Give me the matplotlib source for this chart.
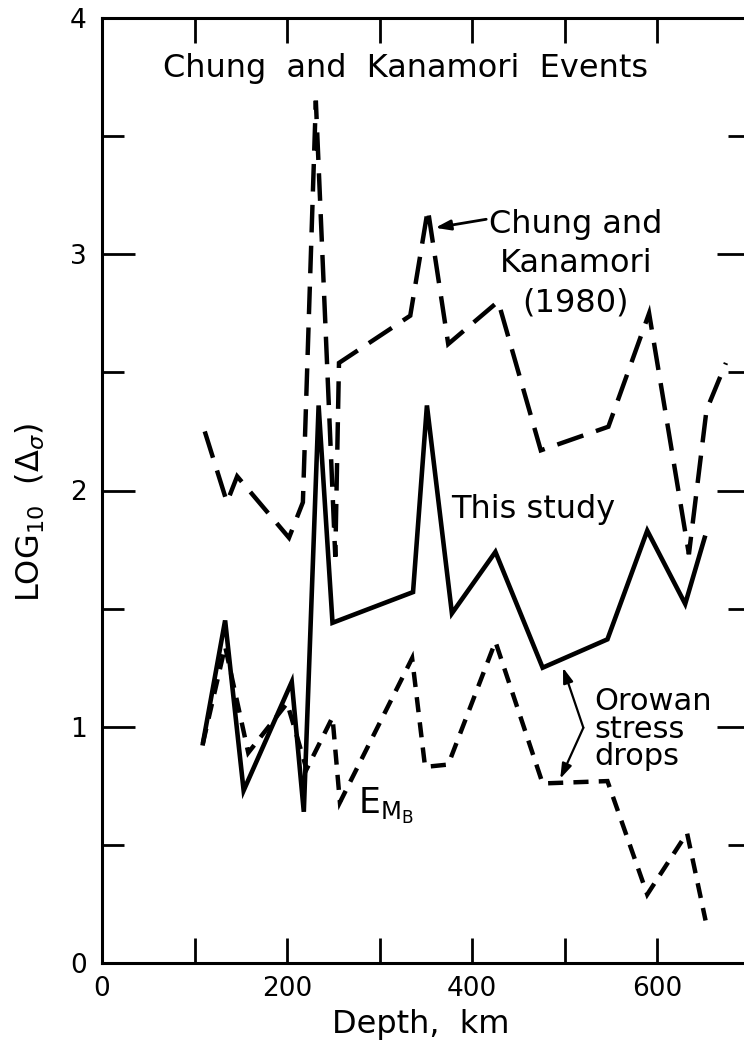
import matplotlib
matplotlib.use('Agg')
import matplotlib.pyplot as plt

# ---- data ----
depth_ck = [111, 135, 146, 202, 217, 231, 252, 256, 333, 352, 374, 428, 474, 547, 591, 634, 653, 674]
logds_ck = [2.25, 1.95, 2.06, 1.80, 1.95, 3.65, 1.72, 2.54, 2.74, 3.19, 2.62, 2.80, 2.17, 2.27, 2.75, 1.73, 2.34, 2.54]

depth_this = [109, 133, 153, 205, 218, 234, 249, 336, 351, 378, 425, 476, 546, 589, 630, 651]
logds_this = [0.93, 1.45, 0.73, 1.19, 0.64, 2.36, 1.44, 1.57, 2.36, 1.48, 1.74, 1.25, 1.37, 1.83, 1.52, 1.80]

depth_emb = [109, 133, 158, 200, 221, 249, 257, 335, 349, 374, 425, 476, 546, 589, 632, 652]
logds_emb = [0.93, 1.34, 0.89, 1.10, 0.82, 1.04, 0.68, 1.29, 0.83, 0.84, 1.36, 0.76, 0.77, 0.29, 0.55, 0.18]

x_major = [0, 200, 400, 600]
x_minor = [100, 300, 500, 700]
x_labels = ['0', '200', '400', '600']
y_major = [0, 1, 2, 3, 4]
y_minor = [0.5, 1.5, 2.5, 3.5]
y_labels = ['0', '1', '2', '3', '4']

W, H = 744, 1053
fig = plt.figure(figsize=(W / 100, H / 100), dpi=100)
fig.patch.set_facecolor('white')
ax = fig.add_axes([102 / W, 1 - 963 / H, 648 / W, 945 / H])

ax.plot(depth_ck, logds_ck, color='k', lw=3.2, dashes=(6.2, 3.0), dash_capstyle='butt',
        dash_joinstyle='miter')
ax.plot(depth_this, logds_this, color='k', lw=3.3, solid_joinstyle='miter')
ax.plot(depth_emb, logds_emb, color='k', lw=3.2, dashes=(3.4, 2.3), dash_capstyle='butt',
        dash_joinstyle='miter')

ax.set_xlim(0, 700)
ax.set_ylim(0, 4)
ax.set_xticks(x_major)
ax.set_xticklabels(x_labels)
ax.set_xticks(x_minor, minor=True)
ax.set_yticks(y_major)
ax.set_yticklabels(y_labels)
ax.set_yticks(y_minor, minor=True)

ax.tick_params(axis='x', which='both', direction='in', length=18, width=2.0,
               top=True, bottom=True, labelsize=19, pad=9)
ax.tick_params(axis='y', which='major', direction='in', length=24, width=2.0,
               left=True, right=True, labelsize=19, pad=11)
ax.tick_params(axis='y', which='minor', direction='in', length=16, width=2.0,
               left=True, right=True)
for s in ax.spines.values():
    s.set_linewidth(2.2)

ax.set_xlabel('Depth,  km', fontsize=23)
ax.xaxis.set_label_coords(0.492, -0.0656)
ax.xaxis.label.set_va('center')
ax.set_ylabel(r'LOG$_{10}$  ($\Delta_{\sigma}$)', fontsize=23)
ax.yaxis.set_label_coords(-0.111, 0.477)
ax.yaxis.label.set_va('center')

ax.text(0.468, 0.947, 'Chung  and  Kanamori  Events', transform=ax.transAxes,
        fontsize=23, ha='center', va='center')

ax.text(512, 2.96, 'Chung and\nKanamori\n(1980)', fontsize=23, ha='center', va='center',
        linespacing=1.35)
ax.annotate('', xy=(357, 3.11), xytext=(418, 3.15),
            arrowprops=dict(arrowstyle='-|>,head_length=0.9,head_width=0.3', color='k', lw=2))

ax.text(466, 1.92, 'This study', fontsize=23, ha='center', va='center')

ax.text(532, 0.99, 'Orowan\nstress\ndrops', fontsize=22, ha='left', va='center',
        linespacing=0.95)
ax.annotate('', xy=(498, 1.25), xytext=(520, 0.996),
            arrowprops=dict(arrowstyle='-|>,head_length=0.9,head_width=0.3', color='k', lw=1.6,
                            shrinkA=0, shrinkB=0))
ax.annotate('', xy=(495, 0.78), xytext=(520, 0.996),
            arrowprops=dict(arrowstyle='-|>,head_length=0.9,head_width=0.3', color='k', lw=1.6,
                            shrinkA=0, shrinkB=0))

ax.text(277, 0.63, r'E$_{\mathregular{M}_{\mathregular{B}}}$', fontsize=25, ha='left',
        va='baseline')

fig.savefig('out.png', dpi=100, facecolor='white')
